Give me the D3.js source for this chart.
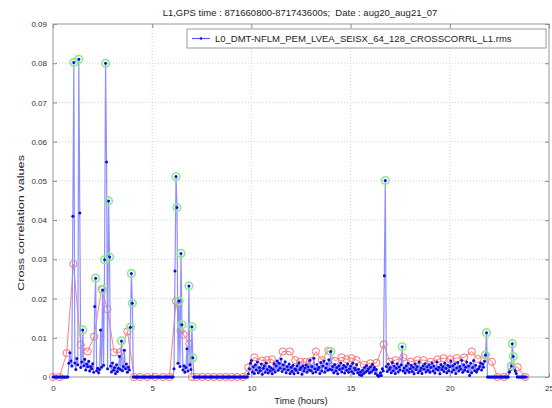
<!DOCTYPE html>
<html><head><meta charset="utf-8">
<script src="https://cdn.jsdelivr.net/npm/d3@7"></script>
<style>body{margin:0;background:#fff}svg{display:block;font-family:"Liberation Sans",Arial,sans-serif}text{white-space:pre}</style>
</head><body><svg id="c" width="552" height="408"></svg>
<script>
const titleText = "L1,GPS time : 871660800-871743600s;  Date : aug20_aug21_07";
const legendLabel = "L0_DMT-NFLM_PEM_LVEA_SEISX_64_128_CROSSCORRL_L1.rms";
const xLabel = "Time (hours)";
const yLabel = "Cross correlation values";
const xTicks = [0, 5, 10, 15, 20, 25];
const yTicks = [0, 0.01, 0.02, 0.03, 0.04, 0.05, 0.06, 0.07, 0.08, 0.09];
const yTickLabels = ["0", "0.01", "0.02", "0.03", "0.04", "0.05", "0.06", "0.07", "0.08", "0.09"];

// blue series: one sample every 0.05 h starting at 0 h
const blueStep = 0.05;
const blueValues = [
  0,0,0,0,0,0,0,0,0,0,0,0,0,0,0,0,
  0.0035,0.0062,0.0041,0.0028,0.0410,0.0802,0.0036,0.0019,0.0047,0.0031,0.0810,0.0418,0.0024,0.0038,0.0120,0.0029,0.0045,0.0018,0.0033,0.0026,
  0.0040,0.0015,0.0027,0.0021,0.0034,0.0012,0.0180,0.0252,0.0016,0.0022,0.0011,0.0019,0.0120,0.0025,0.0222,0.0030,0.0299,0.0800,0.0548,0.0021,
  0.0449,0.0306,0.0028,0.0013,0.0036,0.0017,0.0024,0.0009,0.0031,0.0014,0.0022,0.0052,0.0019,0.0092,0.0016,0.0027,0.0068,0.0021,0.0033,0.0012,
  0.0025,0.0018,0.0127,0.0264,0.0188,
  0,0,0,0,0,0,0,0,0,0,0,0,0,0,0,0,0,0,0,0,0,0,0,0,0,0,0,0,0,0,0,0,0,0,0,0,0,0,0,0,0,
  0.0021,0.0270,0.0511,0.0432,0.0035,0.0194,0.0027,0.0315,0.0133,0.0018,0.0029,0.0012,0.0024,0.0072,0.0015,0.0232,0.0031,0.0019,0.0128,0.0049,
  0,0,0,0,0,0,0,0,0,0,0,0,0,0,0,0,0,0,0,0,0,0,0,0,0,0,0,0,0,0,0,0,0,0,0,0,0,0,0,0,0,0,0,0,0,0,0,0,0,0,0,0,0,0,0,
  0.0008,0.0021,0.0035,
  0.0042,0.0013,0.0026,0.0009,0.0031,0.0018,0.0038,0.0011,0.0024,0.0016,0.0033,0.0007,0.0022,0.0029,0.0012,0.0036,0.0019,0.0010,0.0027,0.0015,
  0.0023,0.0008,0.0019,0.0034,0.0013,0.0028,0.0041,0.0017,0.0035,0.0022,0.0046,0.0014,0.0031,0.0020,0.0039,0.0011,0.0027,0.0018,0.0033,0.0009,
  0.0025,0.0014,0.0030,0.0008,0.0021,0.0017,0.0029,0.0011,0.0036,0.0019,0.0024,0.0007,0.0028,0.0015,0.0022,0.0031,0.0012,0.0026,0.0018,0.0043,
  0.0016,0.0027,0.0010,0.0048,0.0021,0.0013,0.0032,0.0019,0.0025,0.0009,0.0037,0.0015,0.0028,0.0041,0.0012,0.0023,0.0034,0.0017,0.0044,0.0020,
  0.0065,0.0018,0.0027,0.0011,0.0032,0.0015,0.0024,0.0008,0.0029,0.0019,0.0036,0.0013,0.0022,0.0030,0.0010,0.0026,0.0017,0.0033,0.0012,0.0021,
  0.0028,0.0014,0.0035,0.0009,0.0023,0.0018,0.0031,0.0011,0.0020,0.0006,0.0013,0.0004,0.0017,0.0008,0.0024,0.0012,0.0029,0.0016,0.0021,0.0010,
  0.0026,0.0013,0.0032,0.0018,0.0024,0.0009,0.0019,0.0005,0.0002,0.0003,0.0011,0.0004,0.0021,0.0015,0.0258,0.0501,0.0027,0.0014,0.0033,0.0019,
  0.0024,0.0011,0.0037,0.0016,0.0028,0.0009,0.0022,0.0034,0.0013,0.0026,0.0018,0.0031,0.0077,0.0015,0.0023,0.0010,0.0029,0.0017,0.0035,0.0012,
  0.0021,0.0030,0.0014,0.0025,0.0008,0.0033,0.0019,0.0027,0.0011,0.0038,0.0016,0.0023,0.0009,0.0029,0.0020,0.0034,0.0013,0.0026,0.0017,0.0031,
  0.0012,0.0024,0.0036,0.0015,0.0028,0.0010,0.0021,0.0039,0.0018,0.0025,0.0008,0.0032,0.0019,0.0027,0.0014,0.0035,0.0022,0.0011,0.0030,0.0016,
  0.0026,0.0041,0.0013,0.0029,0.0018,0.0034,0.0009,0.0023,0.0037,0.0015,0.0027,0.0020,0.0043,0.0012,0.0031,0.0017,0.0025,0.0038,0.0014,0.0028,
  0.0004,0.0035,0.0011,0.0024,0.0042,0.0016,0.0030,0.0013,0.0019,0.0021,0.0027,0.0036,0.0018,0.0033,0.0025,0.0040,0.0056,0.0113,
  0,0,0,0,0,0,0,0,0,0,0,0,0,0,0,0,0,0,0,0,0,0,
  0.0012,0.0018,0.0028,0.0085,0.0052,0.0021,0.0015,0.0009,
  0,0,0,0,0,0,0,0,0,0
];

// red (smoothed) series
const redHours = [0.00,0.33,0.69,1.03,1.40,1.75,2.07,2.45,2.74,3.08,3.38,3.75,4.09,4.39,4.76,5.15,5.54,5.87,6.20,6.43,6.58,6.87,7.00,7.24,7.52,7.82,8.11,8.41,8.70,9.00,9.28,9.58,9.84,10.15,10.54,10.79,11.04,11.26,11.58,11.93,12.21,12.46,12.71,12.96,13.25,13.55,13.88,14.22,14.55,14.80,15.05,15.30,15.67,16.00,16.30,16.67,16.98,17.27,17.66,18.03,18.37,18.67,19.04,19.38,19.68,20.02,20.35,20.73,21.11,21.40,21.78,22.12,22.41,22.74,23.08,23.42,23.80];
const redValues = [0,0,0.0061,0.0288,0.0082,0.0065,0.0103,0.0224,0.0173,0.0063,0.0063,0.0116,0,0,0,0,0,0,0.0193,0.0118,0.0108,0.0085,0,0,0,0,0,0,0,0,0,0,0.0024,0.0050,0.0042,0.0043,0.0045,0.0031,0.0065,0.0065,0.0043,0.0039,0.0038,0.0040,0.0065,0.0043,0.0067,0.0041,0.0050,0.0045,0.0048,0.0043,0.0031,0.0035,0.0036,0.0083,0.0039,0.0043,0.0050,0.0039,0.0043,0.0043,0.0039,0.0045,0.0048,0.0045,0.0048,0.0050,0.0065,0.0046,0.0056,0.0039,0,0,0.0026,0.0025,0];

// samples flagged as outliers (green rings)
const outlierHours = [1.05,1.30,1.50,2.15,2.50,2.60,2.65,2.80,2.85,3.45,3.90,3.95,4.00,6.20,6.25,6.35,6.45,6.50,6.85,7.00,7.05,14.00,16.75,17.60,21.80,21.85,23.10,23.15,23.20];

const svg = d3.select("#c");
const m = {l: 53, r: 549, t: 24, b: 377};
const x = d3.scaleLinear().domain([0, 25]).range([m.l, m.r]);
const y = d3.scaleLinear().domain([0, 0.09]).range([m.b, m.t]);

const blue = blueValues.map((v, i) => ({t: i * blueStep, v}));
const red = redHours.map((t, i) => ({t, v: redValues[i]}));
const green = outlierHours.map(h => blue[Math.round(h / blueStep)]);

// grid
const g = svg.append("g");
g.selectAll(".gx").data(xTicks.slice(1, -1)).join("line")
  .attr("x1", d => x(d)).attr("x2", d => x(d)).attr("y1", m.t).attr("y2", m.b)
  .attr("stroke", "#c8c8c8").attr("stroke-width", 0.8).attr("stroke-dasharray", "1,2");
g.selectAll(".gy").data(yTicks.slice(1, -1)).join("line")
  .attr("y1", d => y(d)).attr("y2", d => y(d)).attr("x1", m.l).attr("x2", m.r)
  .attr("stroke", "#c8c8c8").attr("stroke-width", 0.8).attr("stroke-dasharray", "1,2");

// axes
const axFont = (sel) => sel.selectAll("text").attr("font-size", 8).attr("fill", "#333").attr("font-family", '"Liberation Sans",Arial,sans-serif');
const styleAx = (sel) => { sel.select(".domain").remove(); sel.selectAll("line").attr("stroke", "#888"); };
svg.append("g").attr("transform", `translate(0,${m.b})`)
  .call(d3.axisBottom(x).tickValues(xTicks).tickFormat(d3.format("d")).tickSize(-4).tickPadding(8))
  .call(styleAx).call(axFont);
svg.append("g").attr("transform", `translate(${m.l},0)`)
  .call(d3.axisLeft(y).tickValues(yTicks).tickFormat((d, i) => yTickLabels[i]).tickSize(-4).tickPadding(6))
  .call(styleAx).call(axFont);
svg.append("g").attr("transform", `translate(0,${m.t})`)
  .call(d3.axisTop(x).tickValues(xTicks).tickFormat("").tickSize(-4)).call(styleAx);
svg.append("g").attr("transform", `translate(${m.r},0)`)
  .call(d3.axisRight(y).tickValues(yTicks).tickFormat("").tickSize(-4)).call(styleAx);
svg.append("rect").attr("x", m.l).attr("y", m.t).attr("width", m.r - m.l).attr("height", m.b - m.t)
  .attr("fill", "none").attr("stroke", "#999").attr("stroke-width", 1);

// red series
const line = d3.line().x(d => x(d.t)).y(d => y(d.v));
svg.append("path").datum(red).attr("d", line).attr("fill", "none")
  .attr("stroke", "#ff8080").attr("stroke-width", 1);
svg.append("g").selectAll("circle").data(red).join("circle")
  .attr("cx", d => x(d.t)).attr("cy", d => y(d.v)).attr("r", 3.6)
  .attr("fill", "none").attr("stroke", "#ff7070").attr("stroke-width", 1);

// blue series
svg.append("path").datum(blue).attr("d", line).attr("fill", "none")
  .attr("stroke", "#8f8fff").attr("stroke-width", 1.2);
svg.append("g").selectAll("circle").data(blue).join("circle")
  .attr("cx", d => x(d.t)).attr("cy", d => y(d.v)).attr("r", 1.5).attr("fill", "#0a0ae6");

// outliers
svg.append("g").selectAll("circle").data(green).join("circle")
  .attr("cx", d => x(d.t)).attr("cy", d => y(d.v)).attr("r", 3.8)
  .attr("fill", "none").attr("stroke", "#8ee88e").attr("stroke-width", 1.6);

// title & labels
svg.append("text").attr("x", 300).attr("y", 16).attr("text-anchor", "middle")
  .attr("font-size", 9.5).attr("fill", "#222").text(titleText);
svg.append("text").attr("x", 301).attr("y", 404).attr("text-anchor", "middle")
  .attr("font-size", 9.5).attr("fill", "#222").text(xLabel);
svg.append("text").attr("transform", "translate(24,223) rotate(-90)").attr("text-anchor", "middle")
  .attr("font-size", 8.5).attr("fill", "#222")
  .attr("textLength", 136).attr("lengthAdjust", "spacingAndGlyphs").text(yLabel);

// legend
const lg = svg.append("g");
lg.append("rect").attr("x", 187).attr("y", 29).attr("width", 359).attr("height", 19)
  .attr("fill", "#fff").attr("stroke", "#999").attr("stroke-width", 1);
lg.append("line").attr("x1", 192).attr("x2", 210).attr("y1", 38.5).attr("y2", 38.5)
  .attr("stroke", "#5a5aff").attr("stroke-width", 1.2);
lg.append("circle").attr("cx", 201).attr("cy", 38.5).attr("r", 1.3).attr("fill", "#1515e0");
lg.append("text").attr("x", 215).attr("y", 42).attr("font-size", 9.5).attr("fill", "#222").text(legendLabel);
</script></body></html>
